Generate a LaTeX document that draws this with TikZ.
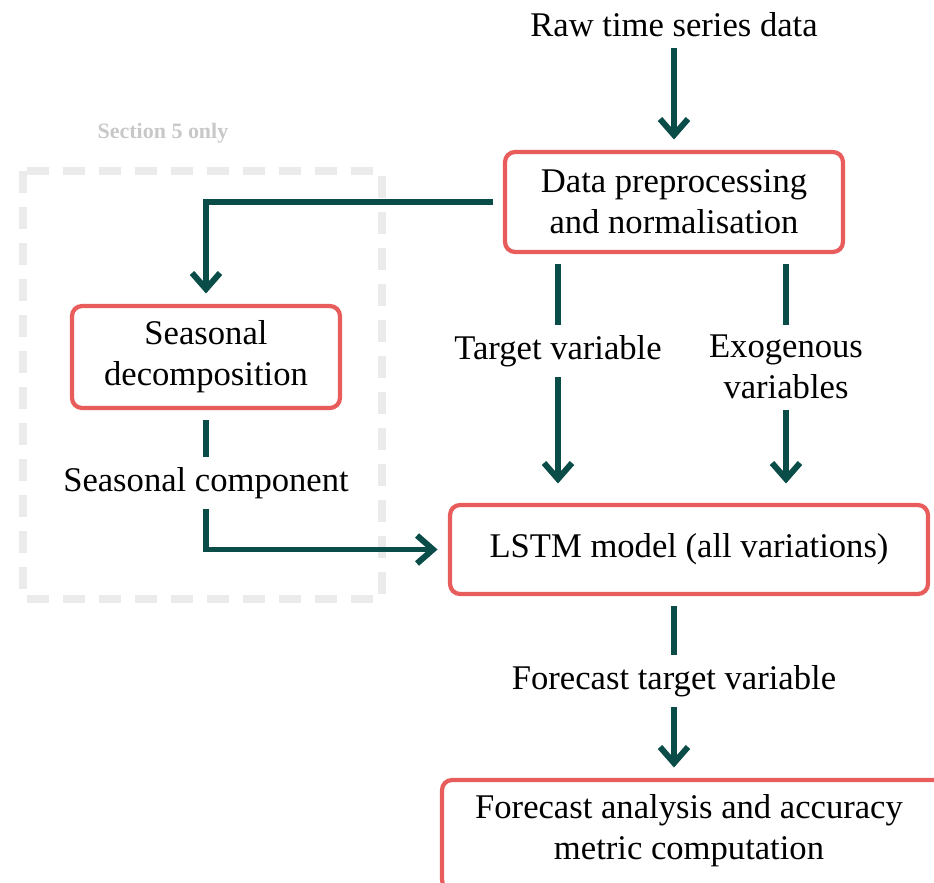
\documentclass[tikz,border=0pt]{standalone}
\usepackage{fontspec}
\setmainfont{Liberation Serif}
\usepackage{tikz}
\usetikzlibrary{arrows.meta,positioning,calc,fit}
\definecolor{cLink}{RGB}{10,76,72}
\definecolor{cBox}{RGB}{232,92,92}
\definecolor{cDash}{RGB}{235,235,235}
\definecolor{cNote}{RGB}{200,200,200}
\newcommand{\mainfs}{\fontsize{19.7}{23.5}\selectfont}
\tikzset{
  stage/.style={draw=cBox, line width=2.4pt, rounded corners=0.2cm, fill=white,
                align=center, font=\mainfs, inner sep=0pt, outer sep=0.25cm},
  lbl/.style={align=center, font=\mainfs, inner sep=0.2cm},
  link/.style={draw=cLink, line width=3.4pt},
  arr/.style={link, -{Straight Barb[length=3.2mm, width=5.6mm]}},
  region/.style={draw=cDash, line width=4.3pt, dash pattern=on 0.44cm off 0.28cm},
  note/.style={font=\fontsize{12.5}{15}\selectfont\bfseries, text=cNote},
}

\begin{document}
\begin{tikzpicture}[x=0.02cm, y=-0.02cm]
  \useasboundingbox (0,0) rectangle (934,883);
  % area of the decomposition step
  \draw[region] (23,171) rectangle (382,599);
  \node[note] (sec) at (163,133) {Section 5 only};

  \node[lbl] (raw) at (674,25) {Raw time series data};
  \node[stage, minimum width=6.76cm, minimum height=2cm] (prep) at (674,202)
    {Data preprocessing\\and normalisation};
  \node[stage, minimum width=5.36cm, minimum height=2.04cm] (seas) at (206,357)
    {Seasonal\\decomposition};
  \node[lbl] (scomp) at (206,483) {Seasonal component};
  \node[lbl] (tvar) at (558,351) {Target variable};
  \node[lbl] (exo) at (786,367) {Exogenous\\variables};
  \node[stage, minimum width=9.56cm, minimum height=1.78cm] (lstm) at (689,549.5)
    {LSTM model (all variations)};
  \node[lbl] (fvar) at (674,681) {Forecast target variable};
  % last box runs off the page on the right
  \coordinate (evalL) at (442,780);
  \coordinate (evalR) at (990,890);
  \node[stage, fit=(evalL)(evalR)] (eval) {};
  \node[lbl] (evaltxt) at (689,831) {Forecast analysis and accuracy\\metric computation};

  \draw[arr] (raw) -- (prep);
  \draw[arr] (prep.west) -| (seas.north);
  \draw[link] (seas) -- (scomp);
  \draw[arr] (scomp.south) |- (lstm.west);
  \draw[link] (tvar.north |- prep.south) -- (tvar);
  \draw[arr, shorten >=0.18cm] (tvar) -- (tvar.south |- lstm.north);
  \draw[link] (exo.north |- prep.south) -- (exo);
  \draw[arr, shorten >=0.18cm] (exo) -- (exo.south |- lstm.north);
  \draw[link] (fvar.north |- lstm.south) -- (fvar);
  \draw[arr] (fvar) -- (fvar.south |- eval.north);
\end{tikzpicture}
\end{document}
